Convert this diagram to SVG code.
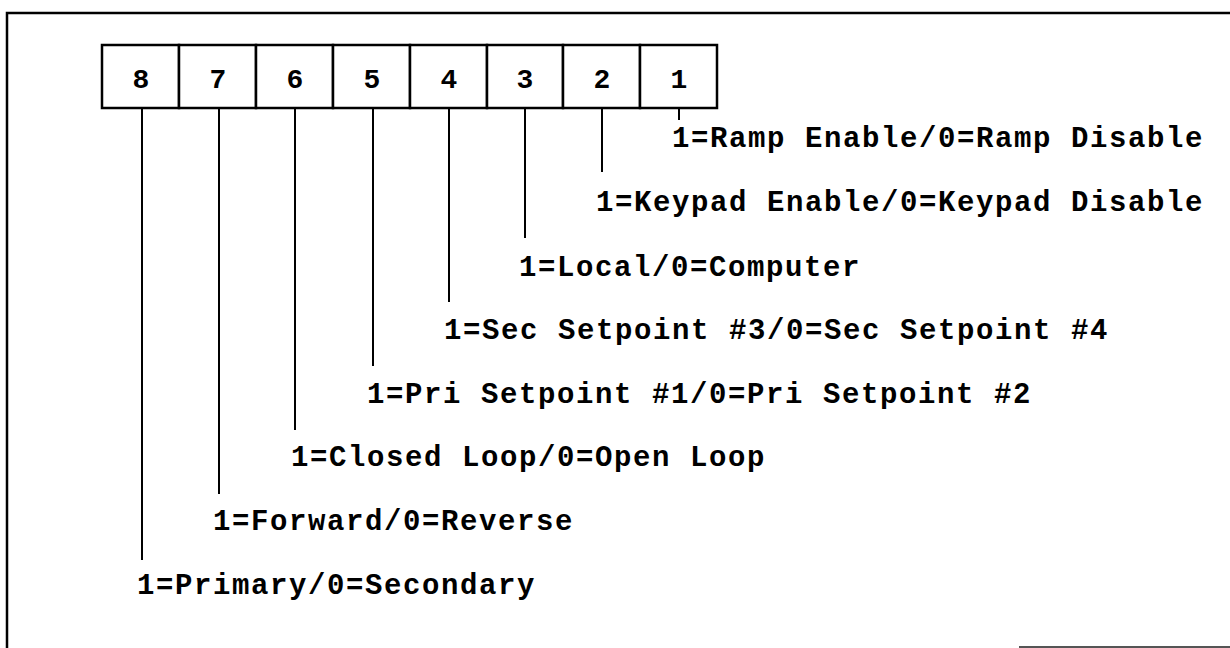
<svg xmlns="http://www.w3.org/2000/svg" width="1230" height="648" viewBox="0 0 1230 648">
<style>
.frame{fill:none;stroke:#000;stroke-width:2.5}
.cell{fill:#fff;stroke:#000;stroke-width:2.5}
.digit{font-family:"Liberation Mono","DejaVu Sans Mono",monospace;font-weight:bold;font-size:28px;text-anchor:middle;fill:#000}
.lbl{font-family:"Liberation Mono","DejaVu Sans Mono",monospace;font-weight:bold;font-size:29px;letter-spacing:1.6px;fill:#000}
.conn line{stroke:#000;stroke-width:2}
</style>
<rect width="1230" height="648" fill="#fff"/>
<g id="frame">
<polyline class="frame" points="7,648 7,13 1230,13"/>
<line x1="1019" y1="647" x2="1230" y2="647" stroke="#555" stroke-width="2"/>
</g>
<g id="bit8"><rect class="cell" x="102" y="45" width="77" height="63"/><text class="digit" x="141" y="88">8</text></g>
<g id="bit7"><rect class="cell" x="179" y="45" width="77" height="63"/><text class="digit" x="218" y="88">7</text></g>
<g id="bit6"><rect class="cell" x="256" y="45" width="77" height="63"/><text class="digit" x="295" y="88">6</text></g>
<g id="bit5"><rect class="cell" x="333" y="45" width="77" height="63"/><text class="digit" x="372" y="88">5</text></g>
<g id="bit4"><rect class="cell" x="410" y="45" width="77" height="63"/><text class="digit" x="449" y="88">4</text></g>
<g id="bit3"><rect class="cell" x="487" y="45" width="76" height="63"/><text class="digit" x="525" y="88">3</text></g>
<g id="bit2"><rect class="cell" x="563" y="45" width="77" height="63"/><text class="digit" x="602" y="88">2</text></g>
<g id="bit1"><rect class="cell" x="640" y="45" width="77" height="63"/><text class="digit" x="679" y="88">1</text></g>
<g id="connectors" class="conn">
<line x1="679" y1="108" x2="679" y2="120"/>
<line x1="602" y1="108" x2="602" y2="172"/>
<line x1="525" y1="108" x2="525" y2="238"/>
<line x1="449" y1="108" x2="449" y2="302"/>
<line x1="373" y1="108" x2="373" y2="366"/>
<line x1="295" y1="108" x2="295" y2="430"/>
<line x1="219" y1="108" x2="219" y2="494"/>
<line x1="142" y1="108" x2="142" y2="560"/>
</g>
<g id="labels">
<text id="label1" class="lbl" x="672" y="147">1=Ramp Enable/0=Ramp Disable</text>
<text id="label2" class="lbl" x="596" y="211">1=Keypad Enable/0=Keypad Disable</text>
<text id="label3" class="lbl" x="519" y="276">1=Local/0=Computer</text>
<text id="label4" class="lbl" x="444" y="339">1=Sec Setpoint #3/0=Sec Setpoint #4</text>
<text id="label5" class="lbl" x="367" y="403">1=Pri Setpoint #1/0=Pri Setpoint #2</text>
<text id="label6" class="lbl" x="291" y="466">1=Closed Loop/0=Open Loop</text>
<text id="label7" class="lbl" x="213" y="530">1=Forward/0=Reverse</text>
<text id="label8" class="lbl" x="137" y="594">1=Primary/0=Secondary</text>
</g>
</svg>
